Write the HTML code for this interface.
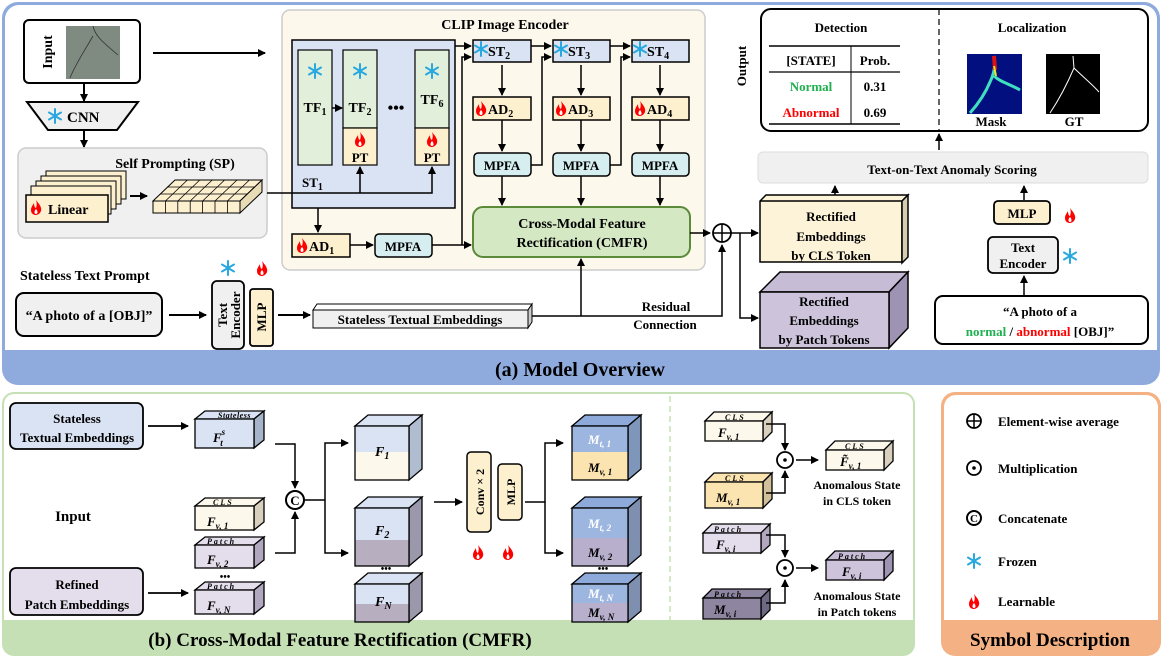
<!DOCTYPE html>
<html><head><meta charset="utf-8"><style>
html,body{margin:0;padding:0;background:#fff;}
svg{display:block;font-family:"Liberation Serif",serif;font-weight:bold;}
</style></head><body>
<svg width="1163" height="661" viewBox="0 0 1163 661" xmlns="http://www.w3.org/2000/svg">
<defs>
<marker id="a" markerWidth="8" markerHeight="8" refX="7" refY="4" orient="auto" markerUnits="userSpaceOnUse"><path d="M0,0 L8,4 L0,8 z" fill="#000"/></marker>
<g id="fl"><path d="M0,-7 C3,-3 6,0 5,4 C4,7 1,8 0,8 C-2,8 -5,7 -5,3 C-5,0 -3,-2 -2,-4 C-2,-1 -1,1 0,1 C1,-2 1,-4 0,-7z" fill="#f00"/><path d="M0,2 C2,4 2,7 0,7 C-2,7 -2,4 0,2z" fill="#fff"/></g>
<g id="sf" stroke="#29a8e0" stroke-width="2" stroke-linecap="round"><line x1="0" y1="-7" x2="0" y2="7"/><line x1="-6" y1="-3.5" x2="6" y2="3.5"/><line x1="-6" y1="3.5" x2="6" y2="-3.5"/><circle r="2" fill="#29a8e0" stroke="none"/></g>
</defs>

<!-- Top panel -->
<rect x="2" y="2" width="1158" height="383" rx="16" fill="#8faadc"/>
<rect x="5" y="5" width="1152" height="345" rx="14" fill="#fff"/>
<rect x="5" y="330" width="1152" height="20" fill="#fff"/>
<text x="580" y="376" font-size="20" text-anchor="middle">(a) Model Overview</text>

<!-- Input -->
<rect x="24" y="20" width="116" height="63" rx="5" fill="#fff" stroke="#000" stroke-width="2"/>
<text transform="translate(52,52) rotate(-90)" font-size="14" text-anchor="middle">Input</text>
<rect x="66" y="26" width="54" height="53" fill="#7f8a80"/>
<path d="M93,26 C95,35 100,40 118,55 M93,36 C85,50 75,65 70,78" stroke="#333" fill="none" stroke-width="0.8"/>
<line x1="153" y1="53" x2="265" y2="53" stroke="#000" stroke-width="2" marker-end="url(#a)"/>
<line x1="84" y1="83" x2="84" y2="101" stroke="#000" stroke-width="2" marker-end="url(#a)"/>
<polygon points="27,102 138,102 117,130 48,130" fill="#f0f0f0" stroke="#000" stroke-width="2"/>
<use href="#sf" x="55" y="116"/>
<text x="67" y="122" font-size="15">CNN</text>
<line x1="84" y1="130" x2="84" y2="147" stroke="#000" stroke-width="2" marker-end="url(#a)"/>

<!-- SP -->
<rect x="18" y="148" width="249" height="90" rx="8" fill="#f0f0f0" stroke="#ccc" stroke-width="1.5"/>
<text x="175" y="168" font-size="14" text-anchor="middle">Self Prompting (SP)</text>
<rect x="46" y="171" width="80" height="28" fill="#fdf0cf" stroke="#000"/>
<rect x="41" y="176" width="80" height="28" fill="#fdf0cf" stroke="#000"/>
<rect x="36" y="181" width="80" height="28" fill="#fdf0cf" stroke="#000"/>
<rect x="31" y="186" width="80" height="28" fill="#fdf0cf" stroke="#000"/>
<rect x="26" y="195" width="82" height="27" fill="#fdf0cf" stroke="#000" stroke-width="1.5"/>
<use href="#fl" x="36" y="207"/>
<text x="48" y="214" font-size="14">Linear</text>
<line x1="130" y1="196" x2="147" y2="196" stroke="#000" stroke-width="2" marker-end="url(#a)"/>
<polygon points="153,201 175,180 262,180 240,201" fill="#fdf0cf" stroke="#000"/>
<polygon points="240,201 262,180 262,192 240,213" fill="#e8dcb6" stroke="#000"/>
<rect x="153" y="201" width="87" height="12" fill="#fdf0cf" stroke="#000"/>
<g stroke="#000" stroke-width="0.8">
<line x1="165.4" y1="201" x2="165.4" y2="213"/><line x1="177.8" y1="201" x2="177.8" y2="213"/><line x1="190.2" y1="201" x2="190.2" y2="213"/><line x1="202.6" y1="201" x2="202.6" y2="213"/><line x1="215" y1="201" x2="215" y2="213"/><line x1="227.4" y1="201" x2="227.4" y2="213"/>
<line x1="160" y1="194" x2="247" y2="194"/><line x1="167" y1="187" x2="254" y2="187"/>
<line x1="165.4" y1="201" x2="187.4" y2="180"/><line x1="177.8" y1="201" x2="199.8" y2="180"/><line x1="190.2" y1="201" x2="212.2" y2="180"/><line x1="202.6" y1="201" x2="224.6" y2="180"/><line x1="215" y1="201" x2="237" y2="180"/><line x1="227.4" y1="201" x2="249.4" y2="180"/>
</g>

<!-- CLIP encoder -->
<rect x="282" y="10" width="423" height="260" rx="8" fill="#fdf8ec" stroke="#ccc" stroke-width="1.5"/>
<text x="505" y="29" font-size="14" text-anchor="middle">CLIP Image Encoder</text>
<rect x="292" y="40" width="163" height="168" fill="#dae3f3" stroke="#000" stroke-width="1.5"/>
<rect x="298" y="50" width="34" height="115" fill="#e2efda" stroke="#000" stroke-width="1.2"/>
<rect x="343" y="50" width="34" height="78" fill="#e2efda" stroke="#000" stroke-width="1.2"/>
<rect x="343" y="128" width="34" height="37" fill="#fdf0cf" stroke="#000" stroke-width="1.2"/>
<rect x="415" y="50" width="34" height="78" fill="#e2efda" stroke="#000" stroke-width="1.2"/>
<rect x="415" y="128" width="34" height="37" fill="#fdf0cf" stroke="#000" stroke-width="1.2"/>
<use href="#sf" x="315" y="71"/><use href="#sf" x="360" y="71"/><use href="#sf" x="432" y="71"/>
<text x="315" y="112" font-size="14" text-anchor="middle">TF<tspan font-size="10" dy="3">1</tspan></text>
<text x="360" y="112" font-size="14" text-anchor="middle">TF<tspan font-size="10" dy="3">2</tspan></text>
<text x="432" y="104" font-size="14" text-anchor="middle">TF<tspan font-size="10" dy="3">6</tspan></text>
<line x1="332" y1="108" x2="342" y2="108" stroke="#000" stroke-width="1.5" marker-end="url(#a)"/>
<text x="396" y="113" font-size="16" text-anchor="middle">•••</text>
<use href="#fl" x="360" y="139"/><use href="#fl" x="432" y="139"/>
<text x="360" y="162" font-size="13" text-anchor="middle">PT</text>
<text x="432" y="162" font-size="13" text-anchor="middle">PT</text>
<text x="302" y="187" font-size="13">ST<tspan font-size="10" dy="3">1</tspan></text>
<polyline points="267,193 432,193 432,167" fill="none" stroke="#000" stroke-width="1.5" marker-end="url(#a)"/>
<line x1="360" y1="193" x2="360" y2="167" stroke="#000" stroke-width="1.5" marker-end="url(#a)"/>
<line x1="318" y1="208" x2="318" y2="232" stroke="#000" stroke-width="1.5" marker-end="url(#a)"/>
<rect x="292" y="234" width="58" height="23" fill="#fdf0cf" stroke="#000" stroke-width="1.5"/>
<use href="#fl" x="302" y="245"/><text x="309" y="251" font-size="14">AD<tspan font-size="10" dy="3">1</tspan></text>
<line x1="350" y1="245" x2="373" y2="245" stroke="#000" stroke-width="1.5" marker-end="url(#a)"/>
<rect x="375" y="234" width="57" height="23" rx="4" fill="#d6eef0" stroke="#000" stroke-width="1.5"/>
<text x="403" y="251" font-size="13" text-anchor="middle">MPFA</text>
<line x1="432" y1="245" x2="471" y2="245" stroke="#000" stroke-width="1.5" marker-end="url(#a)"/>
<polyline points="462,245 462,57 471,57" fill="none" stroke="#000" stroke-width="1.5" marker-end="url(#a)"/>
<polyline points="455,46 471,46" fill="none" stroke="#000" stroke-width="1.5" marker-end="url(#a)"/>

<!-- ST columns -->
<g font-size="14">
<rect x="473" y="40" width="58" height="22" fill="#dae3f3" stroke="#000" stroke-width="1.5"/>
<use href="#sf" x="481" y="49"/><text x="488" y="56">ST<tspan font-size="10" dy="3">2</tspan></text>
<rect x="553" y="40" width="57" height="22" fill="#dae3f3" stroke="#000" stroke-width="1.5"/>
<use href="#sf" x="561" y="49"/><text x="568" y="56">ST<tspan font-size="10" dy="3">3</tspan></text>
<rect x="632" y="40" width="57" height="22" fill="#dae3f3" stroke="#000" stroke-width="1.5"/>
<use href="#sf" x="640" y="49"/><text x="647" y="56">ST<tspan font-size="10" dy="3">4</tspan></text>
<rect x="473" y="97" width="58" height="23" fill="#fdf0cf" stroke="#000" stroke-width="1.5"/>
<use href="#fl" x="481" y="108"/><text x="488" y="114">AD<tspan font-size="10" dy="3">2</tspan></text>
<rect x="553" y="97" width="57" height="23" fill="#fdf0cf" stroke="#000" stroke-width="1.5"/>
<use href="#fl" x="561" y="108"/><text x="568" y="114">AD<tspan font-size="10" dy="3">3</tspan></text>
<rect x="632" y="97" width="57" height="23" fill="#fdf0cf" stroke="#000" stroke-width="1.5"/>
<use href="#fl" x="640" y="108"/><text x="647" y="114">AD<tspan font-size="10" dy="3">4</tspan></text>
</g>
<g font-size="13" text-anchor="middle">
<rect x="474" y="153" width="57" height="23" rx="4" fill="#d6eef0" stroke="#000" stroke-width="1.5"/><text x="502" y="170">MPFA</text>
<rect x="553" y="153" width="57" height="23" rx="4" fill="#d6eef0" stroke="#000" stroke-width="1.5"/><text x="581" y="170">MPFA</text>
<rect x="632" y="153" width="57" height="23" rx="4" fill="#d6eef0" stroke="#000" stroke-width="1.5"/><text x="660" y="170">MPFA</text>
</g>
<g stroke="#000" stroke-width="1.5" fill="none">
<line x1="502" y1="65" x2="502" y2="95" marker-end="url(#a)"/><line x1="581" y1="65" x2="581" y2="95" marker-end="url(#a)"/><line x1="660" y1="65" x2="660" y2="95" marker-end="url(#a)"/>
<line x1="502" y1="120" x2="502" y2="151" marker-end="url(#a)"/><line x1="581" y1="120" x2="581" y2="151" marker-end="url(#a)"/><line x1="660" y1="120" x2="660" y2="151" marker-end="url(#a)"/>
<line x1="502" y1="176" x2="502" y2="205" marker-end="url(#a)"/><line x1="581" y1="176" x2="581" y2="205" marker-end="url(#a)"/><line x1="660" y1="176" x2="660" y2="205" marker-end="url(#a)"/>
<line x1="531" y1="46" x2="551" y2="46" marker-end="url(#a)"/><line x1="610" y1="46" x2="630" y2="46" marker-end="url(#a)"/>
<polyline points="531,165 542,165 542,57 551,57" marker-end="url(#a)"/>
<polyline points="610,165 621,165 621,57 630,57" marker-end="url(#a)"/>
</g>
<rect x="473" y="207" width="217" height="50" rx="10" fill="#d5e8c4" stroke="#5a8a3a" stroke-width="2"/>
<text x="582" y="228" font-size="14" text-anchor="middle">Cross-Modal Feature</text>
<text x="582" y="247" font-size="14" text-anchor="middle">Rectification (CMFR)</text>
<line x1="690" y1="233" x2="710" y2="233" stroke="#000" stroke-width="1.5" marker-end="url(#a)"/>
<circle cx="722" cy="233" r="9" fill="#fff" stroke="#000" stroke-width="1.8"/>
<line x1="713" y1="233" x2="731" y2="233" stroke="#000" stroke-width="1.5"/><line x1="722" y1="224" x2="722" y2="242" stroke="#000" stroke-width="1.5"/>
<polyline points="731,233 740,233" stroke="#000" stroke-width="1.5"/>
<line x1="740" y1="233" x2="758" y2="233" stroke="#000" stroke-width="1.5" marker-end="url(#a)"/>
<polyline points="740,233 740,318 758,318" fill="none" stroke="#000" stroke-width="1.5" marker-end="url(#a)"/>

<!-- Stateless text prompt -->
<text x="20" y="280" font-size="14">Stateless Text Prompt</text>
<rect x="16" y="293" width="146" height="43" rx="8" fill="#f0f0f0" stroke="#000" stroke-width="2"/>
<text x="89" y="320" font-size="14" text-anchor="middle">“A photo of a [OBJ]”</text>
<line x1="169" y1="315" x2="206" y2="315" stroke="#000" stroke-width="2" marker-end="url(#a)"/>
<use href="#sf" x="228" y="268"/><use href="#fl" x="262" y="268"/>
<rect x="212" y="281" width="32" height="68" rx="5" fill="#f0f0f0" stroke="#000" stroke-width="1.8"/>
<text transform="translate(227,315) rotate(-90)" font-size="13" text-anchor="middle">Text</text>
<text transform="translate(240,315) rotate(-90)" font-size="13" text-anchor="middle">Encoder</text>
<rect x="250" y="289" width="23" height="57" rx="3" fill="#fdf0cf" stroke="#000" stroke-width="1.8"/>
<text transform="translate(266,317) rotate(-90)" font-size="13" text-anchor="middle">MLP</text>
<line x1="278" y1="315" x2="310" y2="315" stroke="#000" stroke-width="2" marker-end="url(#a)"/>
<polygon points="313,310 317,304 532,304 528,310" fill="#fff" stroke="#000"/>
<polygon points="528,310 532,304 532,322 528,328" fill="#ccc" stroke="#000"/>
<rect x="313" y="310" width="215" height="18" fill="#f0f0f0" stroke="#000"/>
<text x="420" y="324" font-size="13" text-anchor="middle">Stateless Textual Embeddings</text>
<polyline points="532,316 722,316 722,245" fill="none" stroke="#000" stroke-width="1.5" marker-end="url(#a)"/>
<line x1="581" y1="316" x2="581" y2="259" stroke="#000" stroke-width="1.5" marker-end="url(#a)"/>
<text x="666" y="311" font-size="13" text-anchor="middle">Residual</text>
<text x="665" y="329" font-size="13" text-anchor="middle">Connection</text>

<!-- Output -->
<rect x="761" y="9" width="387" height="122" rx="10" fill="#fff" stroke="#000" stroke-width="2"/>
<line x1="939" y1="9" x2="939" y2="131" stroke="#000" stroke-width="1.2" stroke-dasharray="6,4"/>
<text transform="translate(746,66) rotate(-90)" font-size="13" text-anchor="middle">Output</text>
<text x="841" y="32" font-size="13" text-anchor="middle">Detection</text>
<text x="1032" y="32" font-size="13" text-anchor="middle">Localization</text>
<line x1="769" y1="46" x2="900" y2="46" stroke="#000" stroke-width="1.5"/>
<line x1="769" y1="72" x2="900" y2="72" stroke="#000" stroke-width="1.2"/>
<line x1="769" y1="124" x2="900" y2="124" stroke="#000" stroke-width="1.5"/>
<line x1="851" y1="46" x2="851" y2="124" stroke="#000" stroke-width="1"/>
<text x="811" y="65" font-size="13" text-anchor="middle">[STATE]</text>
<text x="875" y="65" font-size="13" text-anchor="middle">Prob.</text>
<text x="811" y="91" font-size="13" text-anchor="middle" fill="#1fb050">Normal</text>
<text x="875" y="91" font-size="13" text-anchor="middle">0.31</text>
<text x="811" y="117" font-size="13" text-anchor="middle" fill="#f00">Abnormal</text>
<text x="875" y="117" font-size="13" text-anchor="middle">0.69</text>
<rect x="967" y="54" width="55" height="60" fill="#02107f"/>
<path d="M994,56 C996,66 994,74 990,82 C985,94 978,104 970,113 M994,76 C1000,82 1010,84 1020,90" stroke="#3fe0c0" stroke-width="3" fill="none"/>
<path d="M994,56 L995,70" stroke="#e01010" stroke-width="4"/>
<path d="M994,66 L996,76" stroke="#f0e020" stroke-width="2"/>
<rect x="1046" y="54" width="54" height="60" fill="#000"/>
<path d="M1073,56 L1074,68 C1068,82 1060,98 1050,113 M1074,68 C1082,76 1092,84 1099,92" stroke="#fff" stroke-width="1" fill="none"/>
<text x="991" y="126" font-size="13" text-anchor="middle">Mask</text>
<text x="1074" y="126" font-size="13" text-anchor="middle">GT</text>
<line x1="939" y1="150" x2="939" y2="134" stroke="#000" stroke-width="1.5" marker-end="url(#a)"/>
<rect x="758" y="152" width="390" height="31" rx="5" fill="#f0f0f0" stroke="#ddd"/>
<text x="952" y="174" font-size="13" text-anchor="middle">Text-on-Text Anomaly Scoring</text>
<line x1="835" y1="196" x2="835" y2="186" stroke="#000" stroke-width="1.5" marker-end="url(#a)"/>
<line x1="1024" y1="200" x2="1024" y2="186" stroke="#000" stroke-width="1.5" marker-end="url(#a)"/>

<polygon points="760,262 760,201 766,195 908,195 902,201 902,262" fill="#fdf3d9" stroke="#000" stroke-width="1.5"/>
<polygon points="902,201 908,195 908,257 902,263" fill="#d8ccb0" stroke="#000" stroke-width="1.5"/>
<line x1="760" y1="201" x2="902" y2="201" stroke="#000" stroke-width="1.5"/>
<text x="831" y="221" font-size="13" text-anchor="middle">Rectified</text>
<text x="831" y="241" font-size="13" text-anchor="middle">Embeddings</text>
<text x="831" y="260" font-size="13" text-anchor="middle">by CLS Token</text>
<polygon points="760,292 780,272 908,272 889,292" fill="#c6bcd6" stroke="#000" stroke-width="1.5"/>
<polygon points="889,292 908,272 908,328 889,348" fill="#9e93b2" stroke="#000" stroke-width="1.5"/>
<rect x="760" y="292" width="129" height="56" fill="#cdc4dc" stroke="#000" stroke-width="1.5"/>
<text x="824" y="306" font-size="13" text-anchor="middle">Rectified</text>
<text x="824" y="325" font-size="13" text-anchor="middle">Embeddings</text>
<text x="824" y="344" font-size="13" text-anchor="middle">by Patch Tokens</text>

<rect x="994" y="201" width="56" height="23" rx="4" fill="#fdf0cf" stroke="#000" stroke-width="1.8"/>
<text x="1022" y="218" font-size="13" text-anchor="middle">MLP</text>
<use href="#fl" x="1070" y="215"/>
<rect x="988" y="237" width="70" height="36" rx="5" fill="#f0f0f0" stroke="#000" stroke-width="1.8"/>
<text x="1023" y="252" font-size="13" text-anchor="middle">Text</text>
<text x="1023" y="268" font-size="13" text-anchor="middle">Encoder</text>
<use href="#sf" x="1070" y="256"/>
<line x1="1024" y1="295" x2="1024" y2="276" stroke="#000" stroke-width="1.5" marker-end="url(#a)"/>
<rect x="935" y="296" width="213" height="48" rx="8" fill="#fff" stroke="#000" stroke-width="2"/>
<text x="1040" y="316" font-size="13" text-anchor="middle">“A photo of a</text>
<text x="1040" y="336" font-size="13" text-anchor="middle"><tspan fill="#1fb050">normal</tspan> / <tspan fill="#f00">abnormal</tspan> [OBJ]”</text>

<!-- Bottom green panel -->
<rect x="2" y="392" width="913" height="264" rx="12" fill="#c5e0b4"/>
<rect x="4" y="394" width="909" height="226" rx="10" fill="#fff"/>
<rect x="4" y="600" width="909" height="20" fill="#fff"/>
<text x="340" y="646" font-size="19" text-anchor="middle">(b) Cross-Modal Feature Rectification (CMFR)</text>
<line x1="670" y1="396" x2="670" y2="620" stroke="#c5e0b4" stroke-width="1.5" stroke-dasharray="6,4"/>

<rect x="10" y="403" width="133" height="46" rx="6" fill="#dae3f3" stroke="#000" stroke-width="1.8"/>
<text x="77" y="423" font-size="13" text-anchor="middle">Stateless</text>
<text x="77" y="442" font-size="13" text-anchor="middle">Textual Embeddings</text>
<rect x="10" y="568" width="133" height="47" rx="6" fill="#e4deec" stroke="#000" stroke-width="1.8"/>
<text x="77" y="589" font-size="13" text-anchor="middle">Refined</text>
<text x="77" y="609" font-size="13" text-anchor="middle">Patch Embeddings</text>
<text x="73" y="521" font-size="15" text-anchor="middle">Input</text>
<line x1="148" y1="426" x2="188" y2="426" stroke="#000" stroke-width="1.8" marker-end="url(#a)"/>
<line x1="148" y1="593" x2="188" y2="593" stroke="#000" stroke-width="1.8" marker-end="url(#a)"/>

<!-- small cubes left -->
<g stroke="#000" stroke-width="1.3" font-size="13" font-style="italic">
<polygon points="195,419 205,411 264,411 254,419" fill="#dae3f3"/><polygon points="254,419 264,411 264,440 254,448" fill="#a6b3c8"/><rect x="195" y="419" width="59" height="29" fill="#dae3f3"/>
<polygon points="195,506 205,498 264,498 254,506" fill="#fdf8ec"/><polygon points="254,506 264,498 264,522 254,530" fill="#d8d0bc"/><rect x="195" y="506" width="59" height="24" fill="#fdf8ec"/>
<polygon points="195,545 205,537 264,537 254,545" fill="#e4deec"/><polygon points="254,545 264,537 264,560 254,568" fill="#b1a8c0"/><rect x="195" y="545" width="59" height="23" fill="#e4deec"/>
<polygon points="195,590 205,582 264,582 254,590" fill="#e4deec"/><polygon points="254,590 264,582 264,606 254,614" fill="#b1a8c0"/><rect x="195" y="590" width="59" height="24" fill="#e4deec"/>
</g>
<g font-style="italic" font-size="13">
<text x="218" y="418" font-size="8" letter-spacing="0.5">Stateless</text>
<text x="213" y="442">F<tspan font-size="9" dy="-7">s</tspan><tspan font-size="9" dx="-5" dy="11">t</tspan></text>
<text x="213" y="505" font-size="8" letter-spacing="2">CLS</text>
<text x="207" y="526">F<tspan font-size="9" dy="3">v, 1</tspan></text>
<text x="207" y="544" font-size="8" letter-spacing="2">Patch</text>
<text x="207" y="564">F<tspan font-size="9" dy="3">v, 2</tspan></text>
<text x="207" y="589" font-size="8" letter-spacing="2">Patch</text>
<text x="207" y="610">F<tspan font-size="9" dy="3">v, N</tspan></text>
</g>
<text x="225" y="580" font-size="10" text-anchor="middle">•••</text>
<g stroke="#000" stroke-width="1.5" fill="none">
<polyline points="275,444 295,444 295,488" marker-end="url(#a)"/>
<polyline points="275,553 295,553 295,512" marker-end="url(#a)"/>
<polyline points="305,500 325,500"/>
<polyline points="325,500 325,443 348,443" marker-end="url(#a)"/>
<polyline points="325,500 325,553 348,553" marker-end="url(#a)"/>
<line x1="434" y1="502" x2="462" y2="502" marker-end="url(#a)"/>
<polyline points="525,502 545,502 545,443 563,443" marker-end="url(#a)"/>
<polyline points="545,502 545,553 563,553" marker-end="url(#a)"/>
</g>
<circle cx="295" cy="500" r="9" fill="#fff" stroke="#000" stroke-width="2"/>
<text x="295" y="505" font-size="13" text-anchor="middle">C</text>

<!-- F cubes -->
<g stroke="#000" stroke-width="1.3">
<polygon points="355,426 368,415 422,415 409,426" fill="#dae3f3"/><polygon points="409,426 422,415 422,469 409,480" fill="#b0bccf"/>
<rect x="355" y="426" width="54" height="26" fill="#dae3f3" stroke="none"/><rect x="355" y="452" width="54" height="28" fill="#fdf8ec" stroke="none"/><rect x="355" y="426" width="54" height="54" fill="none"/>
<polygon points="355,508 368,497 422,497 409,508" fill="#dae3f3"/><polygon points="409,508 422,497 422,555 409,566" fill="#9c98ac"/>
<rect x="355" y="508" width="54" height="32" fill="#dae3f3" stroke="none"/><rect x="355" y="540" width="54" height="26" fill="#b7afbf" stroke="none"/><rect x="355" y="508" width="54" height="58" fill="none"/>
<polygon points="355,584 368,573 422,573 409,584" fill="#dae3f3"/><polygon points="409,584 422,573 422,611 409,622" fill="#9c98ac"/>
<rect x="355" y="584" width="54" height="20" fill="#dae3f3" stroke="none"/><rect x="355" y="604" width="54" height="18" fill="#b7afbf" stroke="none"/><rect x="355" y="584" width="54" height="38" fill="none"/>
</g>
<text x="386" y="572" font-size="10" text-anchor="middle">•••</text>
<g font-style="italic" font-size="14">
<text x="375" y="456">F<tspan font-size="10" dy="3">1</tspan></text>
<text x="375" y="535">F<tspan font-size="10" dy="3">2</tspan></text>
<text x="375" y="606">F<tspan font-size="10" dy="3">N</tspan></text>
</g>

<rect x="467" y="452" width="24" height="80" rx="4" fill="#fdf0cf" stroke="#000" stroke-width="1.5"/>
<text transform="translate(484,492) rotate(-90)" font-size="12" text-anchor="middle">Conv × 2</text>
<rect x="498" y="464" width="24" height="56" rx="4" fill="#fdf0cf" stroke="#000" stroke-width="1.5"/>
<text transform="translate(515,492) rotate(-90)" font-size="12" text-anchor="middle">MLP</text>
<use href="#fl" x="478" y="552"/><use href="#fl" x="508" y="552"/>

<!-- M cubes -->
<g stroke="#000" stroke-width="1.3">
<polygon points="572,426 585,415 641,415 628,426" fill="#8eaadb"/><polygon points="628,426 641,415 641,469 628,480" fill="#7f96bb"/>
<rect x="572" y="426" width="56" height="26" fill="#9db6e0" stroke="none"/><rect x="572" y="452" width="56" height="28" fill="#fce4b0" stroke="none"/><rect x="572" y="426" width="56" height="54" fill="none"/>
<polygon points="572,508 585,497 641,497 628,508" fill="#8eaadb"/><polygon points="628,508 641,497 641,555 628,566" fill="#7f8fb0"/>
<rect x="572" y="508" width="56" height="30" fill="#9db6e0" stroke="none"/><rect x="572" y="538" width="56" height="28" fill="#b7afcc" stroke="none"/><rect x="572" y="508" width="56" height="58" fill="none"/>
<polygon points="572,584 585,573 641,573 628,584" fill="#8eaadb"/><polygon points="628,584 641,573 641,611 628,622" fill="#7f8fb0"/>
<rect x="572" y="584" width="56" height="19" fill="#9db6e0" stroke="none"/><rect x="572" y="603" width="56" height="19" fill="#b7afcc" stroke="none"/><rect x="572" y="584" width="56" height="38" fill="none"/>
</g>
<text x="603" y="572" font-size="10" text-anchor="middle">•••</text>
<g font-style="italic" font-size="13">
<text x="588" y="444" fill="#fff">M<tspan font-size="9" dy="3">t, 1</tspan></text>
<text x="588" y="472">M<tspan font-size="9" dy="3">v, 1</tspan></text>
<text x="588" y="528" fill="#fff">M<tspan font-size="9" dy="3">t, 2</tspan></text>
<text x="588" y="557">M<tspan font-size="9" dy="3">v, 2</tspan></text>
<text x="588" y="598" fill="#fff">M<tspan font-size="9" dy="3">t, N</tspan></text>
<text x="588" y="617">M<tspan font-size="9" dy="3">v, N</tspan></text>
</g>

<!-- right part of (b) -->
<g stroke="#000" stroke-width="1.3">
<polygon points="705,421 714,412 772,412 763,421" fill="#fdf8ec"/><polygon points="763,421 772,412 772,432 763,441" fill="#d8d0bc"/><rect x="705" y="421" width="58" height="20" fill="#fdf8ec"/>
<polygon points="705,482 714,473 772,473 763,482" fill="#fce4b0"/><polygon points="763,482 772,473 772,499 763,508" fill="#d2c09a"/><rect x="705" y="482" width="58" height="26" fill="#fce4b0"/>
<polygon points="826,450 835,441 893,441 884,450" fill="#fdf8ec"/><polygon points="884,450 893,441 893,461 884,470" fill="#d8d0bc"/><rect x="826" y="450" width="58" height="20" fill="#fdf8ec"/>
<polygon points="703,533 712,524 770,524 761,533" fill="#e4deec"/><polygon points="761,533 770,524 770,545 761,553" fill="#b1a8c0"/><rect x="703" y="533" width="58" height="20" fill="#e4deec"/>
<polygon points="826,560 835,551 893,551 884,560" fill="#c6bcd6"/><polygon points="884,560 893,551 893,571 884,580" fill="#9e93b2"/><rect x="826" y="560" width="58" height="20" fill="#cdc4dc"/>
<polygon points="703,598 712,589 770,589 761,598" fill="#8e86a0"/><polygon points="761,598 770,589 770,610 761,619" fill="#6f6882"/><rect x="703" y="598" width="58" height="21" fill="#8e86a0"/>
</g>
<g font-style="italic" font-size="13">
<text x="725" y="420" font-size="8" letter-spacing="2">CLS</text>
<text x="718" y="437">F<tspan font-size="9" dy="3">v, 1</tspan></text>
<text x="725" y="481" font-size="8" letter-spacing="2">CLS</text>
<text x="716" y="502">M<tspan font-size="9" dy="3">v, 1</tspan></text>
<text x="845" y="449" font-size="8" letter-spacing="2">CLS</text>
<text x="840" y="466">F̃<tspan font-size="9" dy="3">v, 1</tspan></text>
<text x="714" y="532" font-size="8" letter-spacing="2">Patch</text>
<text x="716" y="549">F<tspan font-size="9" dy="3">v, i</tspan></text>
<text x="838" y="559" font-size="8" letter-spacing="2">Patch</text>
<text x="842" y="576">F<tspan font-size="9" dy="3">v, i</tspan></text>
<text x="714" y="597" font-size="8" letter-spacing="2">Patch</text>
<text x="714" y="614">M<tspan font-size="9" dy="3">v, i</tspan></text>
</g>
<g stroke="#000" stroke-width="1.5" fill="none">
<polyline points="766,424 785,424 785,450" marker-end="url(#a)"/>
<polyline points="766,493 785,493 785,471" marker-end="url(#a)"/>
<line x1="796" y1="460" x2="818" y2="460" marker-end="url(#a)"/>
<polyline points="766,535 785,535 785,557" marker-end="url(#a)"/>
<polyline points="766,603 785,603 785,580" marker-end="url(#a)"/>
<line x1="796" y1="568" x2="818" y2="568" marker-end="url(#a)"/>
</g>
<circle cx="785" cy="460" r="8" fill="#fff" stroke="#000" stroke-width="1.8"/><circle cx="785" cy="460" r="1.8"/>
<circle cx="785" cy="568" r="8" fill="#fff" stroke="#000" stroke-width="1.8"/><circle cx="785" cy="568" r="1.8"/>
<text x="857" y="489" font-size="12" text-anchor="middle">Anomalous State</text>
<text x="857" y="505" font-size="12" text-anchor="middle">in CLS token</text>
<text x="857" y="600" font-size="12" text-anchor="middle">Anomalous State</text>
<text x="857" y="616" font-size="12" text-anchor="middle">in Patch tokens</text>

<!-- Symbol Description -->
<rect x="941" y="392" width="220" height="264" rx="14" fill="#f4b183"/>
<rect x="944" y="395" width="214" height="225" rx="12" fill="#fff"/>
<rect x="944" y="600" width="214" height="20" fill="#fff"/>
<text x="1050" y="646" font-size="19" text-anchor="middle">Symbol Description</text>
<circle cx="974" cy="421" r="7" fill="#fff" stroke="#000" stroke-width="1.8"/>
<line x1="967" y1="421" x2="981" y2="421" stroke="#000" stroke-width="1.5"/><line x1="974" y1="414" x2="974" y2="428" stroke="#000" stroke-width="1.5"/>
<circle cx="974" cy="468" r="7" fill="#fff" stroke="#000" stroke-width="1.8"/><circle cx="974" cy="468" r="1.8"/>
<circle cx="974" cy="518" r="7" fill="#fff" stroke="#000" stroke-width="2"/>
<text x="974" y="522" font-size="11" text-anchor="middle">C</text>
<use href="#sf" x="974" y="561"/>
<use href="#fl" x="974" y="601"/>
<g font-size="13">
<text x="998" y="426">Element-wise average</text>
<text x="998" y="473">Multiplication</text>
<text x="998" y="523">Concatenate</text>
<text x="998" y="566">Frozen</text>
<text x="998" y="606">Learnable</text>
</g>
</svg>
</body></html>
